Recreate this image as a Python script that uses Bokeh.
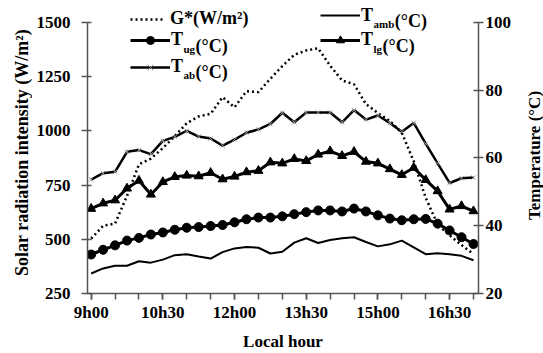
import math
from bokeh.plotting import figure
from bokeh.layouts import row
from bokeh.models import Range1d, LinearAxis, FixedTicker, Legend, LegendItem, Label
from bokeh.embed import file_html
from bokeh.resources import INLINE

# ---- data ----
times = ["9h00", "9h15", "9h30", "9h45", "10h00", "10h15", "10h30", "10h45",
         "11h00", "11h15", "11h30", "11h45", "12h00", "12h15", "12h30", "12h45",
         "13h00", "13h15", "13h30", "13h45", "14h00", "14h15", "14h30", "14h45",
         "15h00", "15h15", "15h30", "15h45", "16h00", "16h15", "16h30", "16h45", "17h00"]

G_star = [503, 562, 572, 700, 845, 872, 920, 975, 1035, 1066, 1078, 1155, 1108, 1182, 1178,
          1240, 1298, 1350, 1370, 1380, 1300, 1232, 1214, 1123, 1082, 1045, 991, 859, 691,
          568, 518, 473, 432]
T_amb = [25.9, 27.4, 28.2, 28.2, 29.5, 29.1, 30.0, 31.3, 31.6, 30.9, 30.3, 32.2, 33.3, 33.7,
         33.5, 31.8, 32.3, 35.0, 36.3, 34.9, 35.8, 36.3, 36.6, 35.2, 33.9, 34.5, 35.6, 33.6,
         31.6, 31.9, 31.6, 31.1, 29.8]
T_ug = [31.5, 32.9, 34.2, 35.6, 36.4, 37.4, 38.0, 38.8, 39.4, 39.6, 39.9, 40.2, 41.0, 41.9,
        42.4, 42.4, 42.75, 43.4, 44.0, 44.5, 44.5, 44.2, 45.05, 44.2, 43.05, 42.1, 41.6, 41.9,
        42.0, 40.6, 38.6, 36.6, 34.6]
T_lg = [45.0, 46.6, 47.5, 51.0, 53.3, 49.2, 52.9, 54.4, 54.8, 54.6, 55.6, 53.7, 54.5, 55.8,
        56.2, 58.7, 58.4, 59.7, 59.1, 61.0, 62.0, 60.6, 61.8, 58.9, 58.4, 56.7, 55.0, 57.1,
        53.5, 50.2, 44.8, 45.8, 44.3]
T_ab = [53.6, 55.5, 55.9, 61.8, 62.3, 61.1, 65.0, 66.2, 68.0, 66.3, 65.7, 63.6, 65.4, 67.4,
        68.4, 70.0, 73.3, 70.5, 73.4, 73.4, 73.4, 70.5, 74.1, 71.3, 72.5, 70.3, 67.7, 70.3,
        64.2, 58.4, 52.6, 54.0, 54.2]

x_tick_labels = ["9h00", "10h30", "12h00", "13h30", "15h00", "16h30"]
left_ticks = [250, 500, 750, 1000, 1250, 1500]
right_ticks = [20, 40, 60, 80, 100]
left_title = "Solar radiation intensity (W/m²)"
right_title = "Temperature (°C)"
x_title = "Local hour"


def to_min(s):
    h, m = s.split("h")
    return int(h) * 60 + int(m)


x = [to_min(t) for t in times]
x_major = [to_min(t) for t in x_tick_labels]
x_minor = list(range(x[0], x[-1] + 1, 30))

FONT = "Liberation Serif"
AX_COL = "#555555"
W, H = 543, 353
LW, RW = 32, 23                 # side strips holding the vertical titles
FL, FR, FT, FB = 87, 478, 4, 297  # frame edges in page pixels
AXIS_TOP = 22                   # page y of the 1500 / 100 ticks
MW = W - LW - RW                # main figure width

# extend the ranges above the axes' tops so the legend sits inside the frame
lo_l, hi_l = left_ticks[0], left_ticks[-1]
lo_r, hi_r = right_ticks[0], right_ticks[-1]
span_px = FB - AXIS_TOP
top_l = hi_l + (AXIS_TOP - FT) * (hi_l - lo_l) / span_px
top_r = hi_r + (AXIS_TOP - FT) * (hi_r - lo_r) / span_px

p = figure(width=MW, height=H, output_backend="svg", toolbar_location=None, title=None,
           x_range=Range1d(535.4, 1026.3), y_range=Range1d(lo_l, top_l),
           min_border_left=FL - LW, min_border_right=(W - RW) - FR, min_border_top=FT,
           min_border_bottom=H - FB)
p.extra_y_ranges = {"temp": Range1d(lo_r, top_r)}
p.outline_line_color = None
p.xgrid.visible = False
p.ygrid.visible = False
p.background_fill_color = "white"
p.border_fill_color = "white"

right = LinearAxis(y_range_name="temp")
p.add_layout(right, "right")

for ax in [p.xaxis[0], p.yaxis[0], right]:
    ax.axis_line_color = AX_COL
    ax.axis_line_width = 1.5
    ax.major_tick_line_color = AX_COL
    ax.major_tick_line_width = 1.5
    ax.major_label_text_font = FONT
    ax.major_label_text_font_style = "bold"
    ax.major_label_text_font_size = "17px"
    ax.major_label_text_color = "black"
    ax.axis_label_text_font = FONT
    ax.axis_label_text_font_style = "bold"
    ax.axis_label_text_font_size = "17px"
    ax.axis_label_text_color = "black"

ly = p.yaxis[0]
ly.ticker = FixedTicker(ticks=left_ticks)
ly.bounds = (lo_l, hi_l)
ly.major_tick_in = 4
ly.major_tick_out = 6
ly.minor_tick_line_color = None
ly.major_label_standoff = 11

right.ticker = FixedTicker(ticks=right_ticks)
right.bounds = (lo_r, hi_r)
right.major_tick_in = 5
right.major_tick_out = 5
right.minor_tick_line_color = None
right.major_label_standoff = 2

bx = p.xaxis[0]
bx.ticker = FixedTicker(ticks=x_major, minor_ticks=x_minor)
bx.major_label_overrides = {v: lab for v, lab in zip(x_major, x_tick_labels)}
bx.major_tick_in = 0
bx.major_tick_out = 6
bx.minor_tick_in = 0
bx.minor_tick_out = 6
bx.minor_tick_line_color = AX_COL
bx.minor_tick_line_width = 1.5
bx.major_label_standoff = 3
bx.axis_label = x_title
bx.axis_label_standoff = 7

# ---- series ----
r_g = p.line(x, G_star, line_color="black", line_width=2.5, line_dash="2 3")
r_amb = p.line(x, T_amb, y_range_name="temp", line_color="black", line_width=2)
r_lg = p.line(x, T_lg, y_range_name="temp", line_color="black", line_width=3)
m_lg = p.scatter(x, T_lg, y_range_name="temp", marker="triangle", size=9,
                 fill_color="black", line_color="black")
r_ab = p.line(x, T_ab, y_range_name="temp", line_color="black", line_width=2.5)
m_ab = p.scatter(x, T_ab, y_range_name="temp", marker="x", size=6,
                 line_color="#999999", line_width=1)
r_ug = p.line(x, T_ug, y_range_name="temp", line_color="black", line_width=3)
m_ug = p.scatter(x, T_ug, y_range_name="temp", marker="circle", size=9,
                 fill_color="black", line_color="black")

# ---- legend (one block per entry, placed like the reference) ----
LH = 20


def add_entry(label, renderers, gx, cy, gw, standoff):
    leg = Legend(items=[LegendItem(label=label, renderers=renderers)],
                 location=(gx - FL, FB - (cy + LH / 2)),
                 glyph_width=gw, glyph_height=LH, label_height=LH,
                 label_standoff=standoff, padding=0, margin=0, spacing=0,
                 border_line_color=None, background_fill_alpha=0,
                 label_text_font=FONT, label_text_font_style="bold",
                 label_text_font_size="18px", label_text_color="black")
    p.add_layout(leg)


def add_text(sx, sy, text, size):
    p.add_layout(Label(x=sx - FL, y=FB - sy, x_units="screen", y_units="screen",
                       text=text, text_font=FONT, text_font_style="bold",
                       text_font_size=size, text_color="black",
                       text_baseline="alphabetic", text_align="left"))


add_entry("G*(W/m²)", [r_g], 130, 23.0, 33, 7)

entries = [
    ("amb", [r_amb], 320, 19.5),
    ("ug", [r_ug, m_ug], 130, 44.3),
    ("lg", [r_lg, m_lg], 320, 44.3),
    ("ab", [r_ab, m_ab], 130, 71.0),
]
sub_w = {"amb": (0.5 + 0.833 + 0.556), "ug": (0.556 + 0.5), "lg": (0.278 + 0.5), "ab": (0.5 + 0.556)}
for sub, rends, gx, cy in entries:
    add_entry("T", rends, gx, cy, 40, 1)
    base = cy + 4.8
    tx = gx + 40 + 1 + 0.667 * 18
    add_text(tx, base + 3, sub, "11px")
    add_text(tx + sub_w[sub] * 11 + 0.5, base, "(°C)", "18px")


# ---- vertical axis titles in narrow side strips (read bottom to top) ----
# the row aligns the strips' frames with the main frame (page y FT..FB)
def title_strip(width, text, cx, cy, size):
    f = figure(width=width, height=H, output_backend="svg", toolbar_location=None,
               title=None, x_axis_type=None, y_axis_type=None,
               x_range=Range1d(0, 1), y_range=Range1d(0, 1), min_border=0)
    f.outline_line_color = None
    f.background_fill_color = "white"
    f.border_fill_color = "white"
    f.add_layout(Label(x=cx, y=FB - cy, x_units="screen", y_units="screen", text=text,
                       angle=math.pi / 2, text_font=FONT, text_font_style="bold",
                       text_font_size=size, text_color="black",
                       text_align="center", text_baseline="middle"))
    return f


left_strip = title_strip(LW, left_title, 21, 156, "18px")
right_strip = title_strip(RW, right_title, 534 - (W - RW), 159, "17px")

layout = row(left_strip, p, right_strip, spacing=0)
open("out.html", "w").write(file_html(layout, INLINE))
